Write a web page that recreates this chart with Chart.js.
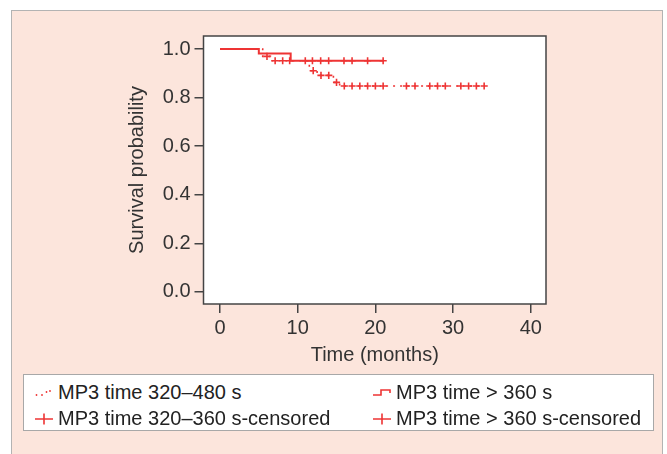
<!DOCTYPE html>
<html>
<head>
<meta charset="utf-8">
<script src="https://cdn.jsdelivr.net/npm/chart.js@4.4.1/dist/chart.umd.min.js"></script>
<style>
  body { margin: 0; background: #fff; font-family: "Liberation Sans", Arial, sans-serif; }
  #panel { position: absolute; left: 11px; top: 10px; width: 650px; height: 460px;
           background: #fce5dc; border: 1.5px solid #b3b3b3; }
  #km { position: absolute; left: 0; top: 0; }
  #legend { position: absolute; left: 23px; top: 374px; width: 618px; height: 51px;
            background: #fff; border: 1px solid #a8a8a8; padding: 4px 0 0 11px; box-sizing: content-box;
            display: grid; grid-template-columns: 338px auto; grid-auto-rows: 26.5px;
            font-size: 20px; color: #222; }
  #legend .item { display: flex; align-items: center; white-space: nowrap; }
  #legend svg { margin-right: 5px; flex: none; }
</style>
</head>
<body>
<div id="panel"></div>
<canvas id="km" width="667" height="454"></canvas>
<div id="legend"></div>
<script>
// Kaplan-Meier steps, MP3 time 320–480 s (dotted curve)
var timeA = [0, 5.5, 6.5, 11.5, 12.5, 14.6, 15.4, 34];
var survA = [1.0, 0.970, 0.952, 0.911, 0.892, 0.863, 0.848, 0.848];
// censored points on that curve
var censTimeA = [6.05, 7.1, 8.07, 8.97, 12.0, 13.0, 14.0, 15.0,
                 16, 17, 18, 19, 20, 21, 24, 25.1, 27, 28, 29, 31, 32, 33, 34];
var censSurvA = [0.970, 0.952, 0.952, 0.952, 0.911, 0.892, 0.892, 0.863,
                 0.848, 0.848, 0.848, 0.848, 0.848, 0.848, 0.848, 0.848, 0.848,
                 0.848, 0.848, 0.848, 0.848, 0.848, 0.848];

// Kaplan-Meier steps, MP3 time > 360 s (solid curve)
var timeB = [0, 5.0, 9.1, 21.0];
var survB = [1.0, 0.982, 0.952, 0.952];
var censTimeB = [10.98, 11.9, 12.96, 13.99, 15.96, 17.0, 19.0, 21.0];
var censSurvB = [0.952, 0.952, 0.952, 0.952, 0.952, 0.952, 0.952, 0.952];

var xTicks = [0, 10, 20, 30, 40];
var yTicks = [0.0, 0.2, 0.4, 0.6, 0.8, 1.0];

var labels = ['MP3 time 320–480 s', 'MP3 time > 360 s',
              'MP3 time 320–360 s-censored', 'MP3 time > 360 s-censored'];

var red = 'rgb(238,52,52)';
var ink = '#333';

function pts(xs, ys) {
    return xs.map(function (x, i) { return { x: x, y: ys[i] }; });
}

// white plot area with a dark frame
var plotFrame = {
    id: 'plotFrame',
    beforeDraw: function (chart) {
        var a = chart.chartArea, c = chart.ctx;
        c.save();
        c.fillStyle = '#fff';
        c.fillRect(a.left, a.top, a.right - a.left, a.bottom - a.top);
        c.restore();
    },
    afterDatasetsDraw: function (chart) {
        var a = chart.chartArea, c = chart.ctx;
        c.save();
        c.strokeStyle = '#444';
        c.lineWidth = 1.5;
        c.strokeRect(a.left, a.top, a.right - a.left, a.bottom - a.top);
        c.restore();
    }
};

var font = { family: '"Liberation Sans", Arial, sans-serif', size: 20 };

var chart = new Chart(document.getElementById('km'), {
    type: 'line',
    data: {
        datasets: [{
            label: labels[0],
            data: pts(timeA, survA),
            stepped: true,
            borderColor: red,
            borderWidth: 1.6,
            borderDash: [2, 5],
            pointRadius: 0
        }, {
            label: labels[1],
            data: pts(timeB, survB),
            stepped: true,
            borderColor: red,
            borderWidth: 2,
            pointRadius: 0
        }, {
            label: labels[2],
            data: pts(censTimeA, censSurvA),
            showLine: false,
            pointStyle: 'cross',
            pointRadius: 3.6,
            pointBorderWidth: 1.6,
            borderColor: red
        }, {
            label: labels[3],
            data: pts(censTimeB, censSurvB),
            showLine: false,
            pointStyle: 'cross',
            pointRadius: 3.6,
            pointBorderWidth: 1.6,
            borderColor: red
        }]
    },
    options: {
        responsive: false,
        animation: false,
        layout: { padding: { left: 120, right: 121, top: 36, bottom: 86 } },
        plugins: { legend: { display: false }, tooltip: { enabled: false } },
        scales: {
            x: {
                type: 'linear',
                min: -2.12,
                max: 41.96,
                afterBuildTicks: function (s) { s.ticks = xTicks.map(function (v) { return { value: v }; }); },
                afterFit: function (s) { s.height = 64; },
                grid: { drawOnChartArea: false, tickLength: 9, color: '#444', lineWidth: 1.5 },
                border: { display: false },
                ticks: { color: ink, font: font, padding: 3, maxRotation: 0 },
                title: { display: true, text: 'Time (months)', color: ink, font: font, padding: { top: 0, bottom: 1 } }
            },
            y: {
                min: -0.05,
                max: 1.054,
                afterBuildTicks: function (s) { s.ticks = yTicks.map(function (v) { return { value: v }; }); },
                afterFit: function (s) { s.width = 83.5; },
                grid: { drawOnChartArea: false, tickLength: 9, color: '#444', lineWidth: 1.5 },
                border: { display: false },
                ticks: {
                    color: ink, font: font, padding: 4,
                    callback: function (v) { return v.toFixed(1); }
                },
                title: { display: true, text: 'Survival probability', color: ink, font: font, padding: { top: 5, bottom: 0 } }
            }
        }
    },
    plugins: [plotFrame]
});

// legend glyphs: dotted step, solid step, cross, cross
var glyphs = [
    '<svg width="18" height="14"><g fill="' + red + '"><circle cx="1.5" cy="10" r="0.9"/><circle cx="7" cy="10" r="0.9"/><circle cx="11.5" cy="7" r="0.9"/><circle cx="15" cy="6" r="0.9"/></g></svg>',
    '<svg width="18" height="14"><path d="M0 10 H8 V5 H17 V8" fill="none" stroke="' + red + '" stroke-width="1.6"/></svg>',
    '<svg width="18" height="14"><path d="M0 7 H18 M9 1.5 V12.5" stroke="' + red + '" stroke-width="1.6"/></svg>',
    '<svg width="18" height="14"><path d="M0 7 H18 M9 1.5 V12.5" stroke="' + red + '" stroke-width="1.6"/></svg>'
];
var legend = document.getElementById('legend');
chart.data.datasets.forEach(function (ds, i) {
    var item = document.createElement('div');
    item.className = 'item';
    item.innerHTML = glyphs[i] + '<span>' + ds.label + '</span>';
    legend.appendChild(item);
});
</script>
</body>
</html>
